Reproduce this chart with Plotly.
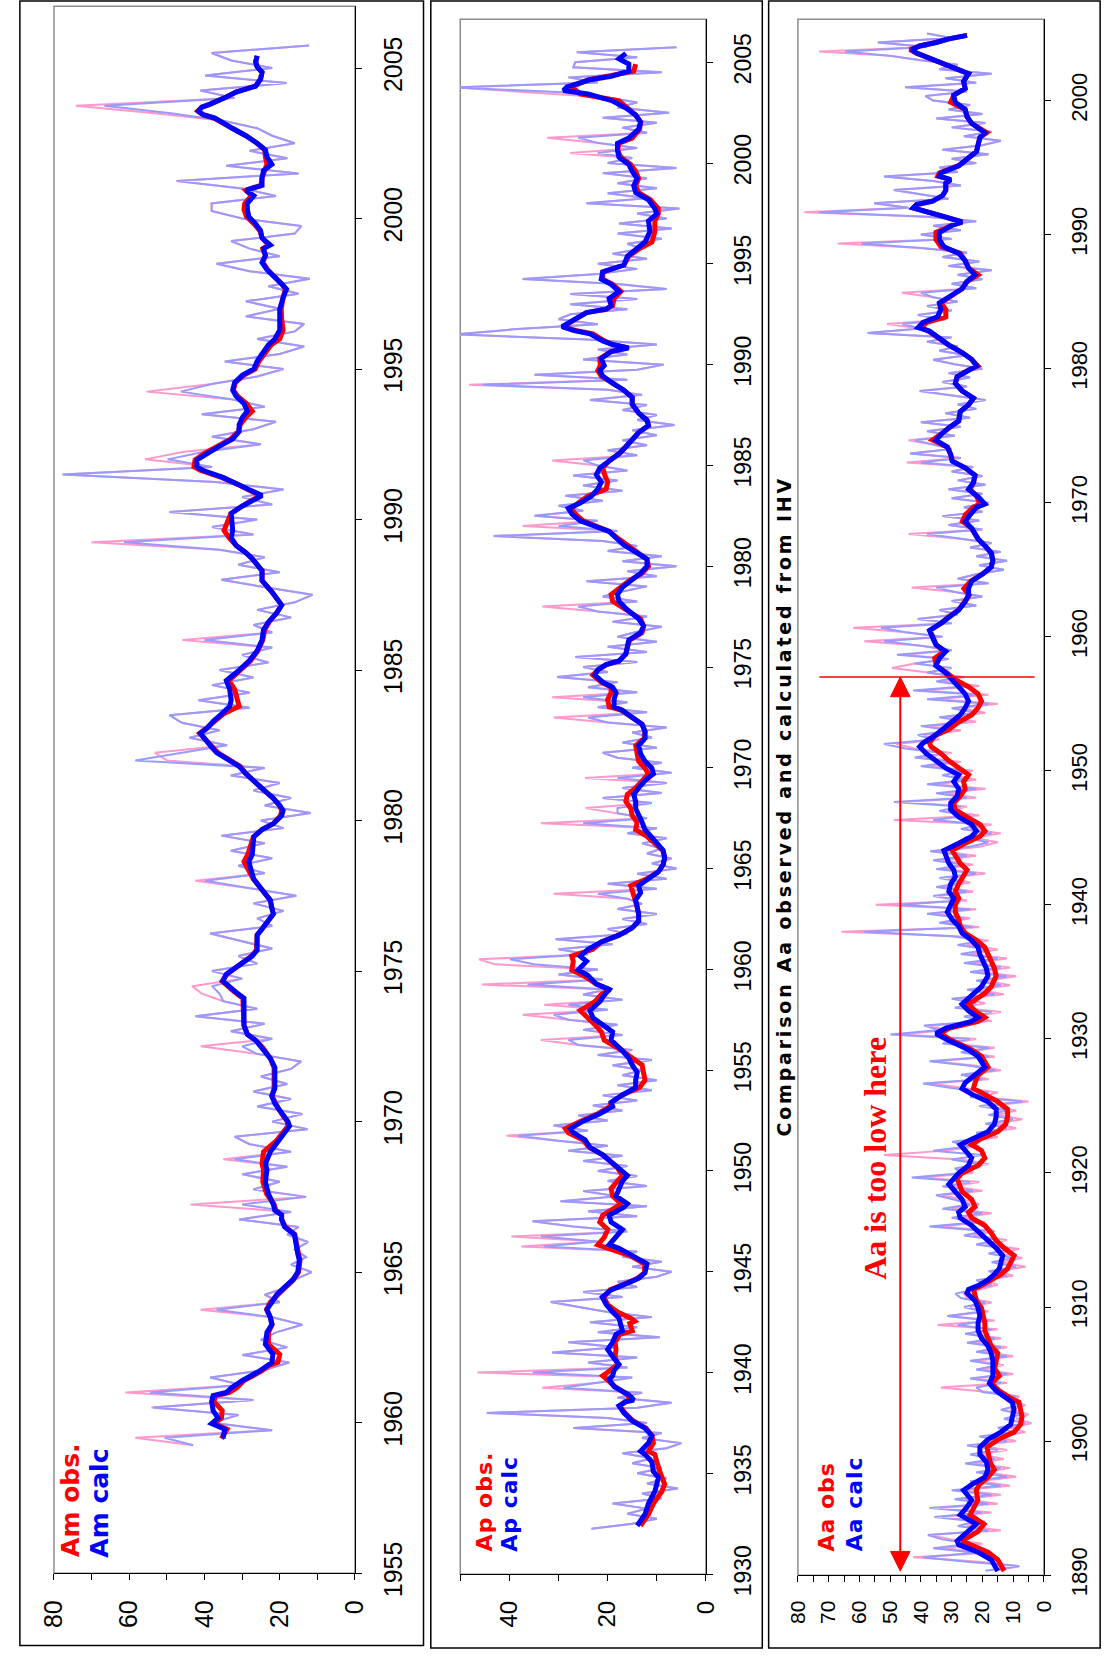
import numpy as np
import plotly.graph_objects as go

W, H = 1118, 1677

RED = "#FF0000"
BLUE = "#0000FF"
PINK = "#FF99CC"
LBLUE = "#9999FF"

# ---------------- Am index (12-month running means) ----------------
am_t = [1959.47, 1959.78, 1959.97, 1960.15, 1960.4, 1960.7, 1960.9, 1961.0, 1961.15, 1961.4,
        1961.7, 1961.9, 1962.0, 1962.27, 1962.6, 1963.0, 1963.26, 1963.5, 1963.76, 1964.0,
        1964.25, 1964.5, 1964.75, 1965.0, 1965.4, 1965.6, 1966.0, 1966.25, 1966.5, 1966.75,
        1966.9, 1967.05, 1967.25, 1967.6, 1968.0, 1968.4, 1968.6, 1969.0, 1969.35, 1969.85,
        1970.0, 1970.35, 1970.6, 1970.85, 1971.1, 1971.5, 1971.8, 1972.1, 1972.46, 1972.7,
        1972.9, 1973.2, 1973.5, 1973.86, 1974.1, 1974.3, 1974.55, 1974.67, 1974.9, 1975.26,
        1975.5, 1975.7, 1975.96, 1976.2, 1976.4, 1976.66, 1976.9, 1977.1, 1977.36, 1977.7,
        1978.06, 1978.4, 1978.64, 1978.87, 1979.2, 1979.46, 1979.7, 1979.9, 1980.16, 1980.33,
        1980.5, 1980.74, 1980.97, 1981.3, 1981.56, 1981.8, 1982.0, 1982.26, 1982.5, 1982.7,
        1982.9, 1983.07, 1983.3, 1983.54, 1983.8, 1984.0, 1984.36, 1984.65, 1984.8, 1985.0,
        1985.3, 1985.64, 1986.0, 1986.34, 1986.6, 1986.9, 1987.16, 1987.4, 1987.6, 1987.97,
        1988.3, 1988.7, 1988.9, 1989.14, 1989.4, 1989.64, 1990.0, 1990.2, 1990.45, 1990.7,
        1990.8, 1991.0, 1991.16, 1991.4, 1991.63, 1991.75, 1991.98, 1992.2, 1992.45, 1992.68,
        1992.92, 1993.15, 1993.4, 1993.6, 1993.85, 1994.1, 1994.3, 1994.55, 1994.8, 1995.0,
        1995.26, 1995.5, 1995.8, 1996.0, 1996.3, 1996.66, 1997.0, 1997.37, 1997.66, 1997.83,
        1998.07, 1998.3, 1998.54, 1998.77, 1999.0, 1999.12, 1999.36, 1999.6, 1999.82, 2000.06,
        2000.3, 2000.5, 2000.76, 2000.94, 2001.1, 2001.35, 2001.6, 2001.8, 2002.05, 2002.28,
        2002.5, 2002.75, 2002.99, 2003.2, 2003.34, 2003.45, 2003.57, 2003.7, 2003.8, 2004.04,
        2004.2, 2004.4, 2004.63, 2004.86, 2005.04, 2005.2, 2005.4]
am_calc = [35.1, 34.6, 38.1, 36.4, 37.7, 38.1, 37.7, 34.2, 32.9, 29.9,
           25.6, 23.4, 22.1, 21.8, 23.8, 23.4, 22.1, 22.5, 23.4, 22.1,
           20.8, 18.7, 16.5, 15.2, 14.8, 15.2, 15.6, 16.1, 18.7, 19.5,
           19.5, 21.3, 21.7, 23.0, 23.8, 23.4, 23.8, 22.5, 20.4, 17.4,
           17.8, 20.0, 21.3, 22.1, 21.3, 21.3, 21.3, 22.5, 24.7, 26.4,
           28.6, 29.5, 29.5, 29.5, 29.5, 31.6, 34.2, 35.1, 34.2, 29.9,
           27.3, 26.0, 26.0, 26.0, 24.7, 23.0, 21.7, 22.1, 22.5, 24.7,
           26.9, 27.7, 28.2, 27.3, 26.9, 26.9, 24.7, 21.7, 19.5, 19.1,
           20.0, 21.7, 23.8, 26.9, 29.0, 30.8, 33.3, 36.8, 38.5, 39.8,
           41.1, 39.3, 37.7, 35.5, 33.3, 32.9, 33.3, 34.2, 32.5, 30.8,
           28.2, 26.0, 24.7, 24.3, 23.0, 20.8, 19.5, 20.8, 22.1, 24.7,
           24.7, 27.3, 29.0, 31.6, 32.9, 32.5, 32.9, 32.9, 29.9, 26.4,
           24.7, 28.2, 30.8, 35.1, 40.3, 42.0, 42.0, 39.4, 35.9, 32.5,
           30.8, 30.8, 29.9, 28.6, 29.5, 31.6, 32.5, 32.0, 29.9, 26.9,
           26.0, 24.7, 23.0, 21.3, 20.0, 20.0, 20.0, 19.1, 18.2, 19.5,
           21.7, 23.4, 24.7, 23.8, 24.3, 22.5, 24.7, 25.1, 26.4, 28.2,
           28.6, 28.6, 26.9, 29.0, 24.7, 24.7, 24.3, 22.1, 23.4, 23.8,
           26.0, 29.0, 32.5, 35.1, 37.2, 40.3, 41.6, 40.7, 38.5, 34.2,
           31.6, 26.4, 25.1, 24.7, 26.0, 26.4, 26.0]
am_obs = [35.5, 34.0, 37.5, 35.5, 35.3, 37.5, 37.0, 33.5, 31.5, 29.5,
          25.0, 22.8, 20.5, 20.0, 23.0, 23.0, 22.0, 22.5, 23.5, 22.5,
          20.5, 18.5, 16.3, 15.0, 14.6, 15.0, 15.6, 16.0, 18.5, 19.5,
          19.5, 21.0, 21.5, 23.5, 24.5, 24.3, 24.7, 24.3, 21.0, 17.8,
          18.0, 20.0, 21.0, 22.1, 21.5, 21.5, 21.5, 22.5, 24.5, 26.4,
          28.6, 29.5, 29.5, 29.5, 29.8, 32.0, 34.5, 35.3, 34.0, 29.9,
          27.5, 26.2, 26.0, 26.0, 24.7, 23.0, 21.7, 22.1, 22.5, 24.7,
          27.0, 28.5, 29.5, 28.5, 27.5, 27.0, 24.7, 21.7, 19.8, 19.5,
          20.0, 21.7, 23.8, 26.9, 29.0, 30.5, 33.0, 36.5, 38.3, 39.8,
          41.3, 39.5, 37.5, 35.0, 30.8, 31.3, 32.0, 33.5, 32.3, 30.5,
          27.8, 25.8, 24.5, 24.0, 22.8, 20.8, 19.5, 20.8, 22.1, 24.7,
          24.7, 27.3, 29.0, 31.6, 33.5, 34.8, 33.5, 33.0, 30.0, 26.8,
          25.2, 28.5, 31.0, 35.5, 41.0, 42.8, 42.5, 40.0, 36.5, 33.0,
          31.0, 30.5, 29.0, 27.3, 28.8, 31.2, 32.3, 31.8, 29.5, 26.5,
          25.5, 24.0, 22.3, 20.0, 19.1, 19.5, 19.6, 19.1, 18.5, 19.5,
          21.5, 23.2, 24.5, 23.8, 24.5, 23.0, 24.7, 25.3, 26.8, 28.8,
          29.5, 29.3, 27.5, 29.0, 25.0, 24.7, 24.0, 23.4, 23.8, 24.0,
          26.0, 29.0, 32.5, 35.5, 37.5, 40.5, 41.8, 40.7, 38.5, 34.2,
          31.6, 26.4, 25.1, 24.7, 26.0, 26.4, 26.0]

# quarterly values, 1959.25 .. 2005.75
am_light_start, am_light_end, am_light_step = 1959.25, 2005.75, 0.25
am_calc_light = [
    43, 50.6, 22,
    38, 31, 53.6, 27,
    54.5, 30, 38.5, 24,
    17.5, 29.9, 18, 25,
    21, 14, 22, 36.8,
    20, 24, 18, 16,
    11.5, 17, 13, 16,
    12.5, 18, 15, 30.8,
    17, 30, 13, 27,
    20, 29.9, 18, 32,
    17, 28, 32, 12.6,
    22, 14, 26, 17,
    27, 18, 25, 17,
    14.3, 26, 30, 22,
    33, 24, 42.4, 26,
    35, 36, 38, 30,
    38, 26, 31, 22,
    30, 38.5, 22, 26,
    19, 27, 15.6, 28,
    39.8, 24, 31, 22,
    33, 24, 35.5, 19,
    25, 11.8, 24, 17,
    27, 20, 33, 24,
    58.4, 46, 34, 44,
    36, 46, 49.3, 28,
    41.6, 28, 38, 27,
    36, 23, 30, 22,
    40, 22, 27, 17,
    26, 16, 11.3, 24,
    35.5, 20, 31, 24,
    36, 61.4, 27, 38,
    26, 49.3, 22, 30,
    19, 37, 77.8, 38,
    49.8, 40, 25, 38,
    27, 21, 40.7, 24,
    33, 46.3, 38.1, 26,
    19, 34.6, 20, 13.5,
    26, 16, 13.5, 29,
    20, 29, 15, 23,
    12, 28, 36.8, 20,
    28, 32.9, 16, 14.3,
    30, 38.1, 38.1, 21,
    30, 47.2, 15, 34.2,
    18, 28, 16, 22,
    26, 35, 48.9, 66.6,
    32, 41.1, 18.2, 39.8,
    22, 32.9, 38.1, 12.2,
]
am_obs_light = [
    43, 58.4, 22,
    38, 31, 54.1, 27,
    61, 30, 38.5, 24,
    17.5, 29.9, 18, 25,
    21, 14, 22, 41,
    20, 24, 18, 16,
    11.5, 17, 13, 16,
    12.5, 18, 15, 30.8,
    17, 43.7, 13, 27,
    20, 29.9, 18, 35,
    17, 28, 32, 12.6,
    22, 14, 26, 17,
    27, 18, 25, 17,
    14.3, 26, 41, 22,
    33, 24, 42.4, 26,
    35, 40.7, 43.3, 30,
    38, 26, 31, 22,
    30, 38.5, 22, 26,
    19, 27, 15.6, 28,
    42.4, 24, 31, 22,
    33, 24, 35.5, 19,
    25, 11.8, 24, 17,
    27, 20, 33, 24,
    50, 53.2, 34, 44,
    36, 46, 49.3, 28,
    41.6, 28, 38, 27,
    36, 23, 30, 22,
    45.9, 22, 27, 17,
    26, 16, 11.3, 24,
    35.5, 20, 31, 24,
    36, 70, 27, 38,
    26, 49.3, 22, 30,
    19, 37, 77.4, 38,
    55.8, 45.4, 25, 38,
    27, 21, 40.7, 24,
    33, 55.4, 38.1, 26,
    19, 34.6, 20, 13.5,
    26, 16, 13.5, 29,
    20, 29, 15, 23,
    12, 28, 36.8, 20,
    28, 32.9, 16, 14.3,
    30, 38.1, 38.1, 21,
    30, 47.5, 15, 34.2,
    18, 28, 16, 22,
    26, 35, 53.2, 74.2,
    32, 41.1, 18.2, 39.8,
    22, 32.9, 38.1, 12.2,
]

# ---------------- Ap index ----------------
ap_t = [1932.4, 1932.97, 1933.5, 1934.1, 1934.46, 1934.8, 1935.1, 1935.57, 1935.94, 1936.1,
        1936.5, 1936.87, 1937.24, 1937.6, 1938.0, 1938.35, 1938.55, 1938.64, 1938.9, 1939.3,
        1939.66, 1939.84, 1940.1, 1940.4, 1940.8, 1941.14, 1941.5, 1941.9, 1942.07, 1942.44,
        1942.55, 1942.7, 1943.0, 1943.37, 1943.74, 1944.1, 1944.4, 1944.67, 1944.95, 1945.4,
        1945.8, 1946.16, 1946.34, 1946.7, 1947.1, 1947.46, 1947.8, 1948.2, 1948.38, 1948.76,
        1949.13, 1949.5, 1949.78, 1950.15, 1950.5, 1950.8, 1951.17, 1951.54, 1951.9, 1952.1,
        1952.47, 1952.84, 1953.2, 1953.4, 1953.77, 1954.14, 1954.5, 1954.9, 1955.26, 1955.6,
        1955.96, 1956.5, 1956.9, 1957.26, 1957.6, 1957.96, 1958.4, 1958.75, 1959.0, 1959.27,
        1959.7, 1959.97, 1960.4, 1960.66, 1961.0, 1961.36, 1961.7, 1962.06, 1962.4, 1962.75,
        1963.1, 1963.45, 1963.8, 1964.15, 1964.5, 1964.84, 1965.2, 1965.54, 1965.9, 1966.24,
        1966.6, 1966.93, 1967.3, 1967.63, 1967.98, 1968.33, 1968.68, 1969.0, 1969.37, 1969.7,
        1969.98, 1970.33, 1970.7, 1971.1, 1971.46, 1971.8, 1972.16, 1972.5, 1972.86, 1973.03,
        1973.38, 1973.73, 1974.0, 1974.25, 1974.6, 1974.86, 1975.12, 1975.3, 1975.64, 1975.99,
        1976.34, 1976.7, 1977.04, 1977.39, 1977.9, 1978.26, 1978.6, 1978.95, 1979.3, 1979.65,
        1980.0, 1980.35, 1980.7, 1981.05, 1981.4, 1981.73, 1982.25, 1982.6, 1982.87, 1983.13,
        1983.48, 1983.83, 1984.18, 1984.53, 1984.88, 1985.23, 1985.58, 1985.93, 1986.28, 1986.63,
        1986.98, 1987.24, 1987.6, 1988.03, 1988.38, 1988.73, 1989.08, 1989.43, 1989.7, 1989.95,
        1990.3, 1990.65, 1990.83, 1991.0, 1991.18, 1991.53, 1991.7, 1991.88, 1992.2, 1992.58,
        1992.75, 1992.93, 1993.28, 1993.63, 1993.98, 1994.24, 1994.6, 1994.94, 1995.38, 1995.73,
        1996.08, 1996.6, 1997.13, 1997.48, 1997.74, 1998.18, 1998.53, 1998.88, 1999.23, 1999.58,
        1999.93, 2000.28, 2000.63, 2000.98, 2001.24, 2001.68, 2002.03, 2002.38, 2002.73, 2003.08,
        2003.43, 2003.6, 2003.78, 2004.13, 2004.3, 2004.56, 2004.91, 2005.17, 2005.44]
ap_calc = [14.0, 12.4, 11.7, 10.4, 10.0, 9.7, 10.7, 11.0, 12.4, 13.3,
           11.7, 11.0, 12.4, 15.0, 16.7, 17.7, 16.3, 14.7, 15.7, 18.7,
           19.7, 19.0, 18.7, 17.7, 19.0, 20.0, 19.0, 18.3, 17.0, 17.3,
           17.5, 17.7, 19.0, 20.3, 21.1, 19.3, 16.3, 13.7, 12.4, 12.0,
           15.0, 17.7, 19.7, 18.3, 17.0, 19.3, 19.7, 16.7, 16.0, 18.3,
           17.7, 17.0, 16.0, 17.7, 19.3, 21.0, 23.6, 24.6, 27.0, 27.6,
           25.0, 21.6, 19.0, 19.3, 17.0, 14.3, 14.3, 14.0, 15.0, 15.7,
           17.0, 19.3, 19.0, 21.0, 23.0, 23.6, 21.6, 20.6, 19.7, 22.3,
           24.0, 26.0, 24.3, 25.6, 24.0, 21.3, 17.7, 15.0, 13.7, 13.7,
           14.0, 14.3, 13.3, 13.7, 11.7, 9.7, 8.7, 8.4, 8.7, 10.0,
           11.4, 12.4, 13.0, 13.7, 14.3, 14.3, 14.7, 13.7, 12.4, 10.7,
           11.0, 12.4, 13.3, 13.7, 12.4, 12.4, 13.0, 15.0, 17.0, 18.7,
           18.7, 18.3, 19.0, 21.0, 22.6, 22.0, 20.3, 17.7, 16.3, 16.0,
           15.7, 13.3, 12.7, 13.7, 16.3, 17.7, 18.0, 17.0, 15.3, 13.3,
           12.0, 12.0, 14.3, 16.7, 18.3, 19.7, 25.6, 27.3, 28.0, 25.6,
           23.3, 22.0, 21.3, 22.3, 21.6, 19.7, 17.7, 16.3, 15.0, 13.7,
           11.7, 12.0, 13.7, 15.0, 15.0, 16.7, 19.0, 21.0, 21.6, 20.7,
           21.3, 19.3, 15.7, 19.0, 21.0, 23.6, 27.0, 29.3, 27.0, 24.3,
           20.3, 19.3, 19.7, 17.7, 19.3, 21.3, 21.0, 16.7, 16.0, 14.3,
           12.4, 11.4, 11.7, 10.0, 10.4, 11.7, 14.3, 14.7, 14.0, 15.0,
           15.7, 17.7, 18.0, 18.0, 15.7, 13.7, 13.3, 14.3, 16.3, 19.0,
           24.0, 29.0, 28.3, 23.6, 19.3, 15.7, 15.7, 17.7, 16.3]
ap_obs = [13.3, 11.7, 10.7, 9.0, 8.4, 9.0, 9.4, 10.0, 10.4, 11.7,
          10.7, 11.0, 12.2, 14.8, 16.5, 17.5, 16.5, 15.5, 16.0, 18.5,
          20.0, 21.0, 19.5, 18.0, 18.5, 18.3, 18.5, 17.5, 15.0, 15.5,
          14.5, 15.3, 18.0, 20.0, 20.8, 19.5, 16.5, 14.0, 12.5, 12.5,
          15.5, 19.5, 22.0, 20.7, 20.0, 21.6, 21.0, 18.3, 17.3, 19.0,
          19.3, 18.0, 17.0, 18.0, 19.5, 21.0, 23.8, 25.0, 28.0, 28.6,
          25.5, 22.0, 19.5, 19.3, 17.0, 13.5, 12.4, 12.7, 13.0, 15.0,
          17.0, 20.7, 21.3, 22.6, 24.0, 25.6, 22.6, 21.3, 19.5, 22.3,
          25.0, 27.3, 27.0, 27.3, 23.0, 21.3, 17.7, 15.0, 13.7, 13.7,
          14.0, 14.5, 15.0, 15.3, 12.0, 9.7, 8.7, 8.4, 8.8, 10.3,
          12.0, 14.3, 14.0, 15.0, 15.3, 16.3, 16.0, 14.3, 13.0, 11.7,
          12.4, 13.7, 14.0, 14.3, 12.6, 12.4, 13.0, 15.0, 17.3, 19.7,
          20.0, 19.3, 19.3, 21.3, 23.0, 22.0, 20.3, 17.7, 16.3, 16.0,
          15.5, 13.0, 12.7, 13.3, 16.5, 19.0, 19.3, 17.5, 15.5, 13.0,
          11.7, 12.0, 14.0, 16.3, 18.0, 19.7, 25.0, 26.6, 27.5, 26.0,
          24.0, 20.3, 20.0, 20.6, 21.0, 19.7, 17.7, 16.3, 15.0, 13.7,
          11.7, 12.0, 13.7, 15.0, 15.0, 16.7, 19.0, 21.3, 22.0, 21.5,
          21.6, 19.3, 16.0, 19.0, 20.7, 23.0, 26.6, 29.0, 27.0, 24.3,
          20.3, 19.0, 18.7, 17.3, 19.0, 21.0, 21.0, 16.7, 15.7, 13.7,
          11.0, 10.4, 10.4, 9.7, 9.7, 11.3, 13.7, 14.3, 13.7, 14.3,
          15.3, 17.3, 18.0, 17.7, 15.0, 13.5, 13.3, 14.3, 16.0, 17.7,
          25.6, 26.6, 27.3, 24.0, 20.0, 14.7, 14.3, None, None]

# quarterly values, 1932.25 .. 2005.75
ap_light_start, ap_light_end, ap_light_step = 1932.25, 2005.75, 0.25
ap_calc_light = [
    23.3, 15, 10,
    16, 12, 19, 9,
    13, 5.7, 12, 8,
    14, 9, 15, 11,
    17, 8, 5.0, 13,
    9, 27, 12, 20,
    44.6, 14, 7, 18,
    13, 29, 22, 15,
    35.3, 16, 24, 14,
    31.3, 18, 28, 9.4,
    22, 14, 23.6, 11,
    20, 26, 31.6, 17,
    25, 14, 18, 10,
    7, 15, 9, 17,
    14, 33, 22, 33.6,
    16, 27, 35.3, 14,
    24, 12, 29.6, 18,
    25, 12, 20, 14,
    22, 16, 25, 17,
    28, 20, 30, 38.2,
    24, 31, 20, 26,
    17, 23, 14, 21,
    11, 18, 10, 17,
    13, 19, 11, 22,
    15, 26, 28, 17,
    25, 18, 28, 31,
    20, 28, 17, 25,
    20, 36.3, 21, 30,
    22, 35, 39.9, 24,
    30, 19, 30.6, 16,
    20, 12, 17, 10,
    18, 13, 16, 22,
    10, 20, 8, 14,
    6, 11, 7, 12,
    9, 13, 8, 16,
    10, 25, 12, 18,
    18, 11, 21, 9,
    17, 8, 18, 7,
    15, 9, 18, 21,
    10, 17, 11, 15,
    8, 20, 24, 12,
    22, 16, 25, 14,
    24, 18, 30.3, 20,
    25, 14, 26.6, 12,
    20, 10, 18, 14,
    9, 19, 12, 22,
    26, 14, 21, 17,
    12, 24.3, 10, 16,
    6, 17, 9, 20,
    14, 21, 43.2, 18,
    30, 22, 34.9, 25,
    30, 21, 28.6, 17,
    25, 18, 27, 16,
    22, 25, 14, 20,
    12, 17, 10, 15,
    6.4, 14, 10, 17,
    12, 23.6, 13, 20,
    45.5, 16, 34.9, 14,
    8.6, 25, 16, 22,
    10, 24, 51, 39.2,
    22, 30, 27.6, 16,
    27.6, 14, 27.6, 8,
    18, 37.3, 22, 14,
    22, 12, 19, 13,
    16, 9, 18, 7,
    17.7, 8, 14, 5.4,
    24.3, 12, 20, 10,
    18, 12, 21, 6,
    20, 15, 22, 14,
    22, 26, 12, 17,
    10, 21, 7.5, 18,
    14, 20, 28, 51,
    22, 28, 9, 27,
    26.6, 14, 26.3, 6,
]
ap_obs_light = [
    23.3, 15, 10,
    16, 12, 19, 9,
    13, 5.7, 12, 8,
    14, 9, 15, 11,
    17, 8, 5.0, 13,
    9, 27, 12, 20,
    44.6, 14, 7, 18,
    13, 33.3, 22, 15,
    46.5, 16, 24, 14,
    31.3, 18, 28, 9.4,
    22, 14, 23.6, 11,
    20, 26, 31.6, 17,
    25, 14, 18, 10,
    7, 15, 9, 17,
    14, 37.6, 22, 39.6,
    16, 27, 35.3, 14,
    24, 12, 29.6, 18,
    25, 12, 20, 14,
    22, 16, 25, 17,
    28, 20, 30, 40.6,
    24, 31, 20, 26,
    17, 23, 14, 21,
    11, 18, 10, 17,
    13, 19, 11, 22,
    15, 26, 33.6, 17,
    25, 18, 28, 37.3,
    20, 32.9, 17, 25,
    20, 45.6, 21, 30,
    22, 42.9, 46.2, 24,
    30, 19, 30.6, 16,
    20, 12, 17, 10,
    18, 13, 16, 31,
    10, 20, 8, 14,
    6, 11, 7, 12,
    9, 13, 8, 16,
    10, 33.6, 12, 18,
    24.5, 11, 21, 9,
    17, 8, 24.6, 7,
    15, 9, 18, 21,
    10, 17, 11, 15,
    8, 20, 31, 12,
    22, 16, 31.3, 14,
    24, 18, 30.3, 20,
    25, 14, 26.6, 12,
    20, 10, 18, 14,
    9, 19, 12, 22,
    33.3, 14, 21, 17,
    12, 24.3, 10, 16,
    6, 17, 9, 20,
    14, 21, 43.2, 18,
    37.3, 22, 34.9, 25,
    30, 21, 28.6, 17,
    25, 18, 27, 16,
    22, 31.3, 14, 20,
    12, 17, 10, 15,
    6.4, 14, 10, 17,
    12, 23.6, 13, 20,
    48.2, 16, 34.9, 14,
    8.6, 25, 16, 22,
    10, 24, 51, 39.2,
    22, 30, 27.6, 16,
    27.6, 14, 27.6, 8,
    18, 37.3, 22, 14,
    22, 12, 19, 13,
    16, 9, 18, 7,
    17.7, 8, 14, 5.4,
    24.3, 12, 20, 10,
    18, 12, 21, 6,
    20, 15, 27.6, 14,
    22, 32.3, 12, 17,
    10, 21, 7.5, 18,
    14, 20, 34.6, 51,
    22, 28, 9, 27,
    26.6, 14, 26.3, 6,
]

# ---------------- Aa index ----------------
aa_t = [1890.31, 1891.15, 1891.71, 1892.27, 1892.55, 1893.25, 1893.8, 1894.5, 1895.07, 1895.6,
        1896.33, 1896.75, 1897.3, 1897.87, 1898.43, 1899.0, 1899.55, 1900.11, 1900.67, 1901.23,
        1901.8, 1902.35, 1902.9, 1903.2, 1903.75, 1904.3, 1904.87, 1905.43, 1906.0, 1906.55,
        1907.1, 1907.68, 1908.24, 1908.8, 1909.36, 1909.92, 1910.48, 1911.04, 1911.32, 1911.6,
        1912.02, 1912.44, 1912.86, 1913.28, 1913.84, 1914.4, 1914.96, 1915.52, 1916.08, 1916.64,
        1917.06, 1917.48, 1918.04, 1918.6, 1919.16, 1919.58, 1920.0, 1920.56, 1921.12, 1921.68,
        1922.1, 1922.52, 1923.08, 1923.64, 1924.2, 1924.76, 1925.32, 1925.88, 1926.3, 1926.72,
        1927.28, 1927.9, 1928.7, 1929.2, 1930.0, 1930.4, 1930.8, 1931.3, 1931.6, 1932.1,
        1932.6, 1933.4, 1933.9, 1934.7, 1935.26, 1935.8, 1936.3, 1936.83, 1937.36, 1937.9,
        1938.4, 1938.9, 1939.46, 1940.0, 1940.5, 1941.0, 1941.56, 1942.1, 1942.6, 1943.1,
        1943.66, 1944.06, 1944.6, 1945.1, 1945.5, 1946.0, 1946.55, 1947.1, 1947.6, 1948.1,
        1948.65, 1949.2, 1949.7, 1950.2, 1950.75, 1951.3, 1951.8, 1952.07, 1952.6, 1953.1,
        1953.64, 1954.17, 1954.7, 1955.2, 1955.74, 1956.27, 1956.8, 1957.3, 1957.85, 1958.4,
        1958.9, 1959.4, 1959.95, 1960.47, 1961.0, 1961.5, 1962.0, 1962.6, 1963.1, 1963.6,
        1964.15, 1964.7, 1965.2, 1965.7, 1966.25, 1966.8, 1967.3, 1968.1, 1968.6, 1969.1,
        1969.65, 1969.9, 1970.45, 1971.0, 1971.5, 1972.05, 1972.6, 1973.1, 1973.6, 1974.15,
        1974.67, 1975.07, 1975.6, 1976.1, 1976.8, 1977.3, 1977.8, 1978.35, 1978.9, 1979.4,
        1979.9, 1980.2, 1980.7, 1981.2, 1981.76, 1982.3, 1982.8, 1983.07, 1983.46, 1983.86,
        1984.4, 1984.9, 1985.4, 1985.96, 1986.5, 1987.0, 1987.5, 1988.06, 1988.6, 1989.1,
        1989.63, 1990.16, 1990.7, 1990.94, 1991.3, 1991.7, 1991.99, 1992.25, 1992.5, 1992.9,
        1993.3, 1993.83, 1994.1, 1994.36, 1994.6, 1995.14, 1995.67, 1996.2, 1996.7, 1997.24,
        1997.6, 1998.3, 1998.8, 1999.34, 1999.87, 2000.4, 2000.9, 2001.44, 2002.0, 2002.5,
        2003.0, 2003.54, 2003.8, 2004.07, 2004.33, 2004.6, 2004.86]
aa_calc = [15.0, 17.1, 21.4, 27.7, 28.2, 24.5, 22.0, 27.2, 25.0, 23.5,
           26.1, 23.5, 19.2, 18.2, 18.7, 20.8, 20.8, 18.2, 14.0, 10.8,
           10.3, 9.7, 10.3, 12.4, 15.5, 17.7, 16.6, 16.6, 16.6, 17.1,
           18.2, 20.3, 21.4, 21.4, 20.8, 21.4, 22.4, 25.0, 24.5, 21.4,
           18.2, 16.1, 14.5, 14.0, 13.4, 15.5, 18.2, 20.8, 23.5, 27.2,
           27.7, 25.6, 26.6, 28.8, 30.9, 29.3, 27.7, 24.5, 23.5, 25.6,
           27.2, 23.5, 18.2, 16.1, 15.5, 15.5, 18.2, 23.5, 26.6, 25.6,
           22.4, 19.2, 21.4, 24.5, 31.9, 35.1, 31.9, 23.5, 21.4, 24.5,
           26.6, 22.4, 20.3, 18.2, 18.7, 19.8, 20.8, 21.4, 23.5, 26.6,
           27.7, 29.8, 31.4, 30.3, 29.3, 30.9, 30.3, 28.8, 29.3, 30.9,
           31.9, 32.5, 27.7, 23.5, 21.9, 23.5, 27.7, 30.3, 30.3, 28.2,
           27.7, 29.3, 27.7, 31.9, 35.1, 38.3, 40.4, 39.3, 35.6, 33.0,
           30.3, 27.2, 25.6, 24.5, 25.6, 27.7, 30.3, 31.9, 35.1, 34.0,
           31.9, 35.1, 36.2, 37.2, 33.5, 30.9, 27.7, 25.6, 24.5, 24.5,
           23.5, 19.8, 17.1, 16.6, 17.1, 19.2, 21.4, 23.5, 25.6, 24.0,
           21.9, 19.2, 21.4, 24.5, 22.9, 22.4, 25.6, 29.8, 30.3, 31.4,
           35.1, 33.5, 30.9, 27.7, 27.2, 24.5, 22.9, 26.6, 28.8, 28.2,
           24.5, 21.9, 23.5, 26.6, 30.9, 34.0, 37.2, 40.9, 39.3, 34.6,
           33.5, 34.0, 30.3, 26.6, 25.0, 22.4, 24.5, 25.6, 27.7, 32.5,
           34.0, 34.0, 29.8, 26.6, 31.9, 38.3, 42.5, 41.4, 36.2, 33.0,
           31.9, 31.9, 30.3, 34.0, 33.5, 27.7, 24.5, 21.9, 21.4, 20.8,
           19.2, 23.5, 25.0, 25.6, 28.8, 29.3, 25.6, 26.1, 24.5, 30.3,
           36.2, 41.4, 43.0, 40.4, 35.1, 30.9, 25.0]
aa_obs = [12.9, 15.0, 18.2, 24.5, 26.6, 21.5, 19.5, 24.0, 22.5, 21.5,
          22.0, 21.0, 18.2, 16.1, 17.5, 18.2, 18.5, 15.0, 9.7, 7.6,
          7.1, 7.6, 8.1, 10.8, 14.5, 17.1, 14.5, 16.0, 15.5, 15.0,
          17.1, 18.2, 19.2, 19.2, 19.8, 20.3, 21.9, 22.4, 22.9, 20.3,
          17.1, 14.0, 11.8, 10.8, 9.7, 12.9, 15.5, 17.1, 19.2, 23.5,
          24.5, 22.4, 23.5, 26.6, 27.7, 28.2, 26.6, 21.4, 19.2, 20.3,
          23.5, 20.8, 15.0, 12.4, 11.8, 11.8, 15.0, 19.2, 22.9, 22.4,
          21.4, 18.2, 20.3, 23.5, 30.9, 33.5, 30.9, 21.4, 19.2, 22.4,
          24.5, 19.2, 17.1, 15.5, 16.1, 17.1, 18.2, 19.2, 21.9, 25.6,
          27.2, 27.7, 28.8, 28.8, 27.7, 28.8, 27.7, 26.1, 25.0, 27.2,
          28.8, 29.8, 25.6, 20.8, 19.2, 20.8, 25.0, 28.8, 29.3, 27.2,
          25.6, 26.1, 24.5, 27.7, 30.9, 33.5, 36.7, 37.2, 35.6, 30.9,
          27.7, 23.5, 21.4, 20.3, 21.4, 24.5, 28.8, 31.5, 35.0, 35.5,
          32.5, 35.0, 36.0, 37.0, 33.5, 31.0, 27.7, 25.6, 24.3, 26.0,
          23.8, 19.8, 17.1, 16.6, 17.1, 19.2, 21.4, 23.5, 26.5, 25.5,
          23.0, 20.8, 21.8, 24.0, 22.9, 22.4, 25.6, 29.8, 30.3, 31.4,
          36.2, 33.8, 30.9, 27.7, 27.2, 24.5, 22.9, 26.6, 28.8, 28.2,
          24.5, 21.5, 23.5, 26.6, 30.9, 34.0, 37.5, 40.0, 38.0, 31.9,
          31.9, 33.5, 30.3, 26.6, 25.0, 21.4, 24.5, 25.6, 27.2, 33.5,
          35.1, 35.1, 29.8, 26.6, 31.9, 38.3, 42.5, 41.4, 36.2, 33.0,
          31.9, 31.9, 30.3, 34.5, 34.0, 27.7, 24.5, 21.9, 21.4, 20.8,
          18.6, 23.5, 25.0, 25.6, 30.3, 29.3, 25.6, 26.1, 24.5, 30.3,
          36.2, 41.4, 43.6, 40.4, 35.1, 30.9, 25.0]

# values every third of a year, 1890.333 .. 2005.0
aa_light_start, aa_light_end, aa_light_step = 1890 + 1 / 3, 2005.0, 1 / 3
aa_calc_light = [
    19, 8,
    25, 39.3, 22,  36, 24, 33,  37.7, 18, 28,  22, 35.6, 20,  37.2, 18, 29,
    17, 30, 14,  24, 12, 22,  14, 25.6, 16,  24, 15, 25,  12, 21, 10,
    15, 6, 13,  7, 14, 8,  12, 9, 20,  22, 14, 24,  12, 22, 15,
    24, 12, 22,  14, 25, 16,  25.6, 17, 28,  18, 31.4, 20,  26, 19, 27,
    28.8, 22, 17,  22, 12, 18,  9, 17, 10,  18, 11, 22,  15, 26, 19,
    37.2, 22, 30,  20, 33, 24,  29, 35.1, 23,  33, 24, 43,  26, 29, 21,
    30, 20, 36,  24, 29.8, 18,  22, 12, 19,  10, 18, 12,  21, 7, 24,
    18, 30, 39.3,  20, 27, 16,  24, 37.2, 18,  27, 18, 33,  24, 49.9, 34,
    39, 19, 26,  17, 29, 22,  30, 16, 25,  14, 22, 12,  24, 14, 26,
    15, 27, 18,  28, 20, 30,  58.4, 23, 34,  26, 38, 24,  46.7, 27, 36,
    25, 35, 26,  34, 22, 35,  26, 36, 25,  37, 24, 18,  26, 17, 27,
    20, 36, 24,  34, 27, 48.8,  25, 35, 22,  38, 25, 33,  26, 40, 30,
    42, 33, 45,  52, 36, 41,  30, 40, 25,  34, 22, 30,  18, 38, 21,
    42.5, 24, 35,  28, 38, 30,  42, 31, 47.8,  30, 40, 52,  33, 45, 53,
    30, 41, 28,  34, 22, 30,  20, 29, 35,  18, 28, 22,  13, 21, 12,
    22, 14, 24,  17, 28, 38,  20, 31, 21,  33, 20, 26,  18, 30, 20,
    31, 19, 28,  20, 30, 23,  40, 27, 43.5,  30, 36, 42,  29, 38, 27,
    40, 24, 32,  22, 28, 19,  30, 40.4, 25,  33, 24, 31,  20, 29, 36,
    25, 34, 28,  38, 30, 57.3,  40, 46, 32,  41, 30, 38,  28, 36, 40,
    22, 30, 20,  28, 17, 31,  21, 33, 25,  40, 59.4, 30,  40, 27, 36,
    22, 38, 73.1,  44, 55.2, 31,  40, 48.8, 27,  36, 52, 28,  34, 22, 30,
    18, 33, 20,  14, 26, 17,  30, 19, 35,  20, 31, 24,  36, 38.5, 25,
    45.1, 22, 32,  17, 34, 28,  40, 50, 64.7,  38, 54, 30,
    38,
]
aa_obs_light = [
    16, 8,
    21, 42.5, 18,  33, 20, 30,  37.7, 14, 25,  19, 33, 17,  34, 15, 26,
    14, 27, 11,  21, 9, 19,  11, 23, 13,  21, 12, 22,  9, 17, 6,
    11, 4, 9,  5, 11, 6,  10, 8, 18,  33.5, 12, 22,  10, 20, 13,
    22, 10, 20,  12, 23, 14,  25.6, 15, 34.6,  16, 31.4, 18,  24, 17, 25,
    26, 20, 15,  20, 10, 15,  6, 14, 7,  15, 8, 19,  12, 23, 16,
    34, 19, 27,  17, 30, 21,  26, 33, 20,  30, 21, 40,  23, 26, 18,
    27, 52, 32,  21, 27, 15,  19, 9, 16,  7, 15, 9,  18, 5, 21,
    15, 27, 37,  18, 25, 14,  22, 36, 16,  25, 16, 31,  22, 46, 32,
    37, 17, 24,  14, 27, 19,  27, 13, 22,  11, 19, 9,  21, 11, 23,
    12, 24, 15,  25, 18, 28,  65.8, 21, 32,  24, 36, 22,  54.7, 25, 34,
    23, 33, 24,  31, 19, 33,  23, 33, 22,  34, 21, 15,  23, 14, 24,
    17, 48.8, 21,  31, 25, 46,  22, 32, 19,  35, 22, 30,  23, 37, 27,
    39, 30, 42,  48, 34, 39,  27, 37, 22,  31, 19, 27,  15, 35, 18,
    40, 21, 33,  26, 37, 49.4,  42, 31, 45,  30, 40, 58.4,  33, 45, 62,
    30, 41, 28,  34, 22, 30,  20, 29, 43,  18, 28, 22,  13, 21, 12,
    22, 14, 24,  17, 28, 44,  20, 31, 21,  33, 20, 26,  18, 30, 20,
    31, 19, 28,  20, 30, 23,  44.6, 27, 43.5,  30, 36, 44,  29, 38, 27,
    40, 24, 32,  22, 28, 19,  30, 40.4, 25,  33, 24, 31,  20, 29, 36,
    25, 34, 28,  38, 30, 57.3,  40, 51, 32,  41, 30, 38,  28, 36, 46.2,
    22, 30, 20,  28, 17, 31,  21, 33, 25,  40, 67, 30,  40, 27, 36,
    22, 38, 77.9,  44, 55.2, 31,  40, 48.8, 27,  36, 52, 28,  34, 22, 30,
    18, 33, 20,  14, 26, 17,  30, 19, 35,  20, 31, 24,  36, 38.5, 25,
    45.1, 22, 32,  17, 34, 28,  40, 50, 73.1,  38, 54, 30,
    38,
]

# tick labels
am_years = list(range(1955, 2006, 5))
ap_years = list(range(1930, 2006, 5))
aa_years = list(range(1890, 2001, 10))


def light_times(start, end, step, values, name):
    n = int(round((end - start) / step)) + 1
    if n != len(values):
        raise ValueError(f"{name}: expected {n} values, got {len(values)}")
    return start + step * np.arange(n)


for nm, a, b in [("am_obs", am_t, am_obs), ("am_calc", am_t, am_calc),
                 ("ap_obs", ap_t, ap_obs), ("ap_calc", ap_t, ap_calc),
                 ("aa_obs", aa_t, aa_obs), ("aa_calc", aa_t, aa_calc)]:
    if len(a) != len(b):
        raise ValueError(f"{nm}: {len(a)} times vs {len(b)} values")

am_lt = light_times(am_light_start, am_light_end, am_light_step, am_calc_light, "am_calc_light")
light_times(am_light_start, am_light_end, am_light_step, am_obs_light, "am_obs_light")
ap_lt = light_times(ap_light_start, ap_light_end, ap_light_step, ap_calc_light, "ap_calc_light")
light_times(ap_light_start, ap_light_end, ap_light_step, ap_obs_light, "ap_obs_light")
aa_lt = light_times(aa_light_start, aa_light_end, aa_light_step, aa_calc_light, "aa_calc_light")
light_times(aa_light_start, aa_light_end, aa_light_step, aa_obs_light, "aa_obs_light")

# plot-area geometry in page pixels: left (value max), right (value 0), top, bottom
panels = [
    dict(left=40, right=348.7, top=6.4, bottom=1596, vmax=80, t0=1955, t1=2007.05,
         major=[0, 20, 40, 60, 80], minor=[10, 30, 50, 70], years=am_years, fs_t=25, fs_v=25,
         series=(am_t, am_obs, am_calc, am_lt, am_obs_light, am_calc_light)),
    dict(left=456.7, right=708.7, top=19.6, bottom=1597, vmax=50, t0=1930, t1=2007.13,
         major=[0, 20, 40], minor=[10, 30, 50], years=ap_years, fs_t=23, fs_v=24,
         series=(ap_t, ap_obs, ap_calc, ap_lt, ap_obs_light, ap_calc_light)),
    dict(left=803, right=1055.3, top=19.6, bottom=1598, vmax=80, t0=1890, t1=2006.06,
         major=list(range(0, 81, 10)), minor=list(range(5, 80, 10)), years=aa_years, fs_t=22, fs_v=21,
         series=(aa_t, aa_obs, aa_calc, aa_lt, aa_obs_light, aa_calc_light)),
]

fig = go.Figure()
layout = dict(width=W, height=H, margin=dict(l=0, r=0, t=0, b=0), autosize=False,
              paper_bgcolor="white", plot_bgcolor="white", showlegend=False)
shapes = []
TICKFONT = "Arial, Liberation Sans, sans-serif"

for i, p in enumerate(panels, start=1):
    xn = "x" if i == 1 else f"x{i}"
    yn = "y" if i == 1 else f"y{i}"
    t, obs, calc, lt, obs_l, calc_l = p["series"]
    fig.add_trace(go.Scatter(x=obs_l, y=lt, mode="lines", line=dict(color=PINK, width=2),
                             xaxis=xn, yaxis=yn, hoverinfo="skip"))
    fig.add_trace(go.Scatter(x=calc_l, y=lt, mode="lines", line=dict(color=LBLUE, width=2),
                             xaxis=xn, yaxis=yn, hoverinfo="skip"))
    fig.add_trace(go.Scatter(x=obs, y=t, mode="lines", line=dict(color=RED, width=5),
                             xaxis=xn, yaxis=yn, connectgaps=False))
    fig.add_trace(go.Scatter(x=calc, y=t, mode="lines", line=dict(color=BLUE, width=5),
                             xaxis=xn, yaxis=yn))

    xd = [p["left"] / W, p["right"] / W]
    yd = [1 - p["bottom"] / H, 1 - p["top"] / H]
    xkey = "xaxis" if i == 1 else f"xaxis{i}"
    ykey = "yaxis" if i == 1 else f"yaxis{i}"
    layout[xkey] = dict(domain=xd, range=[p["vmax"], 0], anchor=yn, showgrid=False, zeroline=False,
                        showline=True, linecolor="black", linewidth=1.3,
                        tickmode="array", tickvals=p["major"], ticks="outside", ticklen=6,
                        tickcolor="black", tickwidth=1.3, tickangle=-90,
                        tickfont=dict(family=TICKFONT, size=p["fs_v"], color="black"),
                        ticklabelstandoff=10,
                        minor=dict(tickmode="array", tickvals=p["minor"], ticks="outside",
                                   ticklen=6, tickcolor="black", tickwidth=1.3))
    layout[ykey] = dict(domain=yd, range=[p["t0"], p["t1"]], anchor=xn, side="right",
                        showgrid=False, zeroline=False, showline=True, linecolor="black",
                        linewidth=1.3, tickmode="array", tickvals=p["years"], ticks="outside",
                        ticklen=6, tickcolor="black", tickwidth=1.3, tickangle=-90,
                        tickfont=dict(family=TICKFONT, size=p["fs_t"], color="black"),
                        ticklabelstandoff=10)
    # grey plot-area border (left and top edges show)
    shapes.append(dict(type="rect", xref="paper", yref="paper", x0=xd[0], x1=xd[1], y0=yd[0],
                       y1=yd[1], line=dict(color="#8C8C8C", width=1.5), layer="below"))

# outer frames around each chart
for x0, x1, y0, y1 in [(5, 419, 1, 1669.5), (426.5, 766.5, 1, 1672), (773, 1113, 1, 1672)]:
    shapes.append(dict(type="rect", xref="paper", yref="paper", x0=x0 / W, x1=x1 / W,
                       y0=1 - y1 / H, y1=1 - y0 / H, line=dict(color="black", width=1.5)))

# cut-off marker and double-headed arrow on the Aa chart
CUT_T = 1957.0
CUT_V0, CUT_V1 = 73, 3
ARROW_V = 46.7
ARROW_T0, ARROW_T1 = 1890.3, 1957.0
p3 = panels[2]
v_per_px = p3["vmax"] / (p3["right"] - p3["left"])
t_per_px = (p3["t1"] - p3["t0"]) / (p3["bottom"] - p3["top"])
head_half = 10 * v_per_px
head_len = 20 * t_per_px
shapes.append(dict(type="line", xref="x3", yref="y3", x0=CUT_V0, x1=CUT_V1, y0=CUT_T, y1=CUT_T,
                   line=dict(color=RED, width=1.6)))
shapes.append(dict(type="line", xref="x3", yref="y3", x0=ARROW_V, x1=ARROW_V,
                   y0=ARROW_T0 + head_len, y1=ARROW_T1 - head_len, line=dict(color=RED, width=2)))
shapes.append(dict(type="path", xref="x3", yref="y3", fillcolor=RED, line=dict(color=RED, width=1),
                   path=f"M {ARROW_V - head_half},{ARROW_T1 - head_len} L {ARROW_V},{ARROW_T1} "
                        f"L {ARROW_V + head_half},{ARROW_T1 - head_len} Z"))
shapes.append(dict(type="path", xref="x3", yref="y3", fillcolor=RED, line=dict(color=RED, width=1),
                   path=f"M {ARROW_V - head_half},{ARROW_T0 + head_len} L {ARROW_V},{ARROW_T0} "
                        f"L {ARROW_V + head_half},{ARROW_T0 + head_len} Z"))

layout["shapes"] = shapes

LEG = "DejaVu Sans, Verdana, sans-serif"


def vtext(text, x, y, color, size, family, yanchor="bottom", spacing=0):
    if spacing:
        text = f'<span style="letter-spacing:{spacing}px">{text}</span>'
    return dict(text=text, x=x / W, y=1 - y / H, xref="paper", yref="paper", showarrow=False,
                textangle=-90, xanchor="center", yanchor=yanchor,
                font=dict(color=color, size=size, family=family))


annotations = [
    vtext("<b>Am obs.</b>", 57, 1582, RED, 25, LEG),
    vtext("<b>Am calc</b>", 87, 1582, BLUE, 25, LEG),
    vtext("<b>Ap obs.</b>", 481, 1576, RED, 22, LEG, spacing=1),
    vtext("<b>Ap calc</b>", 507, 1576, BLUE, 22, LEG, spacing=1),
    vtext("<b>Aa obs</b>", 832, 1576, RED, 22, LEG, spacing=1),
    vtext("<b>Aa calc</b>", 862, 1576, BLUE, 22, LEG, spacing=1),
    vtext("<b>Comparison Aa observed and calculated from IHV</b>", 789, 818, "black", 19, LEG,
          yanchor="middle", spacing=2.8),
    vtext("<b>Aa is too low here</b>", 882, 1300, RED, 32, "Liberation Serif, Times New Roman, serif"),
]
layout["annotations"] = annotations

fig.update_layout(**layout)
fig.write_html("out.html")
